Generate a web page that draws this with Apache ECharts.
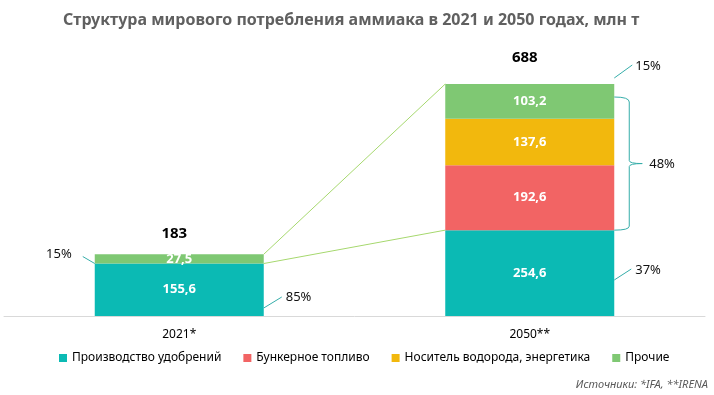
<!DOCTYPE html>
<html><head><meta charset="utf-8">
<script src="https://cdn.jsdelivr.net/npm/echarts@6/dist/echarts.min.js"></script>
<style>html,body{margin:0;padding:0;background:#fff}#c{width:714px;height:395px}</style>
</head><body><div id="c"></div>
<script>
// ---- data ----
const categories = ['2021*', '2050**'];
const fertilizers = [155.6, 254.6];
const bunkerFuel = ['-', 192.6];
const hydrogen = ['-', 137.6];
const other = [27.5, 103.2];
const totals = [183, 688];
const seriesNames = ['Производство удобрений', 'Бункерное топливо', 'Носитель водорода, энергетика', 'Прочие'];
const shares2021 = ['15%', '85%'];          // other, fertilizers
const shares2050 = ['15%', '48%', '37%'];   // other, bunker+hydrogen, fertilizers
const title = 'Структура мирового потребления аммиака в 2021 и 2050 годах, млн т';
const sourceText = 'Источники: *IFA, **IRENA';

const colors = ['#0BBAB4', '#F26464', '#F2B80D', '#7FC873'];
const FONT = '"Noto Sans", "Open Sans", sans-serif';
const BAR_W = 169;

const chart = echarts.init(document.getElementById('c'), null, {renderer: 'canvas'});
const fmt = p => (p.value === '-' || p.value == null) ? '' : String(p.value).replace('.', ',');

function barSeries(name, data, color) {
  return {
    name, type: 'bar', stack: 'total', data, barWidth: BAR_W,
    itemStyle: {color},
    label: {show: true, position: 'inside', color: '#fff', fontWeight: 'bold', fontSize: 13, fontFamily: FONT, formatter: fmt},
    z: 3
  };
}

function sumAt(i, arrs) {
  return arrs.reduce((s, a) => s + (typeof a[i] === 'number' ? a[i] : 0), 0);
}

function renderOverlay(params, api) {
  if (params.dataIndex !== 0) return;
  const h = BAR_W / 2;
  const lineTeal = '#35ADA9';
  const lineGreen = '#A6D86E';
  const tStyle = {fill: '#111', fontSize: 13, fontFamily: FONT};
  const els = [];
  const top0 = api.coord([0, sumAt(0, [fertilizers, bunkerFuel, hydrogen, other])]);
  const fert0 = api.coord([0, fertilizers[0]]);
  const base0 = api.coord([0, 0]);
  const top1 = api.coord([1, sumAt(1, [fertilizers, bunkerFuel, hydrogen, other])]);
  const fert1 = api.coord([1, fertilizers[1]]);
  const base1 = api.coord([1, 0]);
  // connector lines
  els.push({type: 'line', shape: {x1: top0[0] + h, y1: top0[1], x2: top1[0] - h, y2: top1[1]}, style: {stroke: lineGreen, lineWidth: 1}});
  els.push({type: 'line', shape: {x1: fert0[0] + h, y1: fert0[1], x2: fert1[0] - h, y2: fert1[1]}, style: {stroke: lineGreen, lineWidth: 1}});
  // totals
  els.push({type: 'text', style: Object.assign({}, tStyle, {text: String(totals[0]), x: top0[0] - 5, y: top0[1] - 21, align: 'center', verticalAlign: 'middle', fontWeight: 'bold', fontSize: 15, fill: '#000'})});
  els.push({type: 'text', style: Object.assign({}, tStyle, {text: String(totals[1]), x: top1[0] - 5, y: top1[1] - 26, align: 'center', verticalAlign: 'middle', fontWeight: 'bold', fontSize: 15, fill: '#000'})});
  // 2021 other share (left)
  let x = fert0[0] - h, y = fert0[1];
  els.push({type: 'line', shape: {x1: x, y1: y, x2: x - 12, y2: y - 7}, style: {stroke: lineTeal, lineWidth: 1}});
  els.push({type: 'text', style: Object.assign({}, tStyle, {text: shares2021[0], x: x - 23, y: y - 9, align: 'right', verticalAlign: 'middle'})});
  // 2021 fertilizer share (right)
  x = base0[0] + h; y = base0[1] - 8;
  els.push({type: 'line', shape: {x1: x, y1: y, x2: x + 18, y2: y - 11}, style: {stroke: lineTeal, lineWidth: 1}});
  els.push({type: 'text', style: Object.assign({}, tStyle, {text: shares2021[1], x: x + 22, y: y - 11, align: 'left', verticalAlign: 'middle'})});
  // 2050 other share
  x = top1[0] + h; y = top1[1] - 6;
  els.push({type: 'line', shape: {x1: x, y1: y, x2: x + 18, y2: y - 13}, style: {stroke: lineTeal, lineWidth: 1}});
  els.push({type: 'text', style: Object.assign({}, tStyle, {text: shares2050[0], x: x + 21, y: y - 12, align: 'left', verticalAlign: 'middle'})});
  // 2050 fertilizer share
  x = base1[0] + h; y = base1[1] - 36;
  els.push({type: 'line', shape: {x1: x, y1: y, x2: x + 17, y2: y - 11}, style: {stroke: lineTeal, lineWidth: 1}});
  els.push({type: 'text', style: Object.assign({}, tStyle, {text: shares2050[2], x: x + 21, y: y - 10, align: 'left', verticalAlign: 'middle'})});
  // brace
  const bx = top1[0] + h, byT = top1[1] + 13, byB = fert1[1], byM = (byT + byB) / 2;
  const d = `M${bx} ${byT} Q${bx + 15} ${byT} ${bx + 15} ${byT + 5} L${bx + 15} ${byM - 3} Q${bx + 15} ${byM} ${bx + 28} ${byM} Q${bx + 15} ${byM} ${bx + 15} ${byM + 3} L${bx + 15} ${byB - 4} Q${bx + 15} ${byB} ${bx} ${byB}`;
  els.push({type: 'path', shape: {pathData: d}, style: {stroke: lineTeal, fill: 'none', lineWidth: 1}});
  els.push({type: 'text', style: Object.assign({}, tStyle, {text: shares2050[1], x: bx + 35, y: byM + 1, align: 'left', verticalAlign: 'middle'})});
  return {type: 'group', children: els};
}

const option = {
  animation: false,
  color: colors,
  title: {
    text: title, left: 58, top: 7,
    textStyle: {fontFamily: FONT, fontSize: 16, fontWeight: 'bold', color: '#606060'}
  },
  legend: {
    data: seriesNames, left: 54, top: 347, icon: 'rect', itemWidth: 8, itemHeight: 8, itemGap: 22,
    textStyle: {fontFamily: FONT, fontSize: 12, color: '#000'}
  },
  grid: {left: 4, right: 9, top: 84, bottom: 79, containLabel: false},
  xAxis: {
    type: 'category', data: categories,
    axisLine: {lineStyle: {color: '#D9D9D9', width: 1}},
    axisTick: {show: false},
    axisLabel: {color: '#000', fontSize: 12, fontFamily: FONT, margin: 13}
  },
  yAxis: {type: 'value', min: 0, max: 688, show: false, splitLine: {show: false}},
  graphic: [{
    type: 'text', right: 6, top: 379,
    style: {text: sourceText, fontFamily: FONT, fontSize: 11, fontStyle: 'italic', fill: '#595959'}
  }],
  series: [
    barSeries(seriesNames[0], fertilizers, colors[0]),
    barSeries(seriesNames[1], bunkerFuel, colors[1]),
    barSeries(seriesNames[2], hydrogen, colors[2]),
    barSeries(seriesNames[3], other, colors[3]),
    {type: 'custom', data: [0], renderItem: renderOverlay, silent: true, z: 5}
  ]
};
chart.setOption(option);
</script></body></html>
